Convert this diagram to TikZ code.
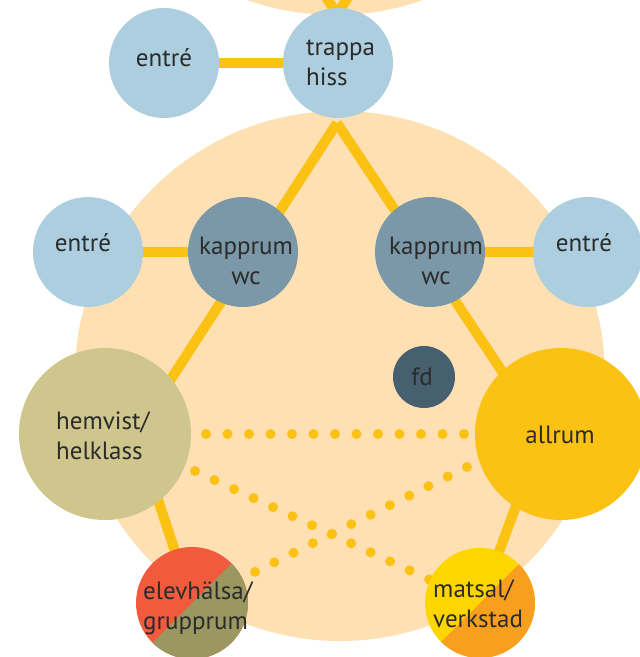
\documentclass[tikz,border=0pt]{standalone}
\usepackage{fontspec}
\setmainfont{PT Sans}
\usetikzlibrary{backgrounds,calc}
\definecolor{peach}{HTML}{FEE0B2}
\definecolor{yel}{HTML}{FBC113}
\definecolor{lblue}{HTML}{ACCEDF}
\definecolor{kapc}{HTML}{7B98A8}
\definecolor{fdc}{HTML}{46606F}
\definecolor{hemc}{HTML}{CEC68C}
\definecolor{allc}{HTML}{FBC113}
\definecolor{redc}{HTML}{F15A3D}
\definecolor{olivec}{HTML}{9B9760}
\definecolor{myel}{HTML}{FDD500}
\definecolor{orangec}{HTML}{F89F1F}
\definecolor{txt}{HTML}{2B2B2B}
\begin{document}
\begin{tikzpicture}[x=1pt,y=-1pt,
  room/.style={circle, inner sep=0pt, outer sep=0pt, minimum size=#1},
  lab/.style={text=txt, font=\fontsize{25}{30}\selectfont, inner sep=0pt},
  link/.style={draw=yel, line width=10pt},
  dotline/.style={draw=yel, line width=10pt, line cap=round, dash pattern=on 0pt off 21.5pt}]
\useasboundingbox (0,0) rectangle (640,657);
\clip (0,0) rectangle (640,657);

% rooms
\node[room=110pt, fill=lblue] (trappa) at (338,63) {};
\node[room=110pt, fill=lblue] (entreT) at (164,63) {};
\node[room=110pt, fill=lblue] (entreL) at (88,252) {};
\node[room=110pt, fill=kapc] (kapL) at (243,252) {};
\node[room=110pt, fill=kapc] (kapR) at (430,252) {};
\node[room=110pt, fill=lblue] (entreR) at (588,252) {};
\node[room=62pt, fill=fdc] (fd) at (424,377) {};
\node[room=172pt, fill=hemc] (hem) at (105,434) {};
\node[room=172pt, fill=allc] (allrum) at (561,434) {};
\node[room=112pt, fill=redc, path picture={\fill[olivec] (path picture bounding box.south west) -- (path picture bounding box.north east) -- (path picture bounding box.south east) -- cycle;}] (elev) at (192,603) {};
\node[room=110pt, fill=myel, path picture={\fill[orangec] (path picture bounding box.south west) -- (path picture bounding box.north east) -- (path picture bounding box.south east) -- cycle;}] (matsal) at (480,603) {};

% labels
\node[lab, anchor=west, align=left] (trappaT) at (306,62.8) {trappa\\hiss};
\node[lab] (entreTT) at (164,58) {entré};
\node[lab] (entreLT) at (83,243) {entré};
\node[lab] (entreRT) at (584,243) {entré};
\node[lab, align=center] (kapLT) at (246,261) {kapprum\\wc};
\node[lab, align=center] (kapRT) at (436,261) {kapprum\\wc};
\node[lab] (fdT) at (422,376.5) {fd};
\node[lab, anchor=west, align=left] (hemT) at (56,435.5) {hemvist/\\helklass};
\node[lab] (allrumT) at (560,434.5) {allrum};
\node[lab, anchor=west, align=left] (elevT) at (143,608) {elevhälsa/\\grupprum};
\node[lab, anchor=west, align=left] (matsalT) at (433,604) {matsal/\\verkstad};

\begin{scope}[on background layer]
  \fill[peach] (335,-250) circle (265pt);
  \fill[peach] (340,376) circle (265pt);
  \coordinate (apex) at (337,123);
  \coordinate (vL) at (136,433);
  \coordinate (vR) at (543,433);
  \coordinate (topV) at (337,14);
  \coordinate (topL) at (305,-35);
  \coordinate (topR) at (369,-35);
  \draw[link] (apex) -- (vL) -- (elev.center);
  \draw[link] (apex) -- (vR) -- (matsal.center);
  \draw[link] (topL) -- (topV);
  \draw[link] (topR) -- (topV);
  \draw[link] (entreT) -- (trappa);
  \draw[link] (entreL) -- (kapL);
  \draw[link] (kapR) -- (entreR);
  \draw[dotline, shorten <=15pt] (hem) -- (allrum);
  \coordinate (d1s) at (195,471);
  \coordinate (d2s) at (467,467);
  \draw[dotline] (d1s) -- (matsal.center);
  \draw[dotline] (d2s) -- (elev.center);
\end{scope}
\end{tikzpicture}
\end{document}
